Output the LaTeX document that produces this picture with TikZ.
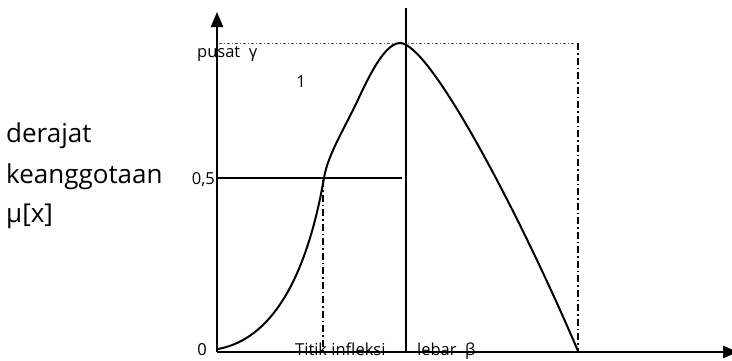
\documentclass[tikz,border=0pt]{standalone}
\usepackage{fontspec}
\setmainfont{Open Sans}
\usetikzlibrary{arrows.meta}
\begin{document}
\begin{tikzpicture}[x=1pt,y=-1pt,
  axis/.style={line width=2.2pt,-{Triangle[length=15pt,width=12pt]}},
  solidline/.style={line width=1.6pt},
  curveline/.style={line width=2pt,line join=round},
  dashdotv/.style={line width=1.6pt,dash pattern=on 7pt off 3pt on 1.5pt off 3pt},
  dotline/.style={line width=0.8pt,gray!70!black,dash pattern=on 3pt off 2pt on 1pt off 2pt},
  small/.style={font=\fontsize{16.5}{19}\selectfont,inner sep=0pt},
  big/.style={font=\fontsize{26}{30}\selectfont,inner sep=0pt,anchor=base west}]
\useasboundingbox (0,0) rectangle (732,360);
\coordinate (O) at (217,352);
\coordinate (Ytop) at (217,12);
\coordinate (Xend) at (738,352);
\coordinate (Vtop) at (406,8);
\coordinate (Vbot) at (406,352);
\coordinate (Dl) at (219,43);
\coordinate (Dr) at (575,43);
\coordinate (Rt) at (578,43);
\coordinate (Rb) at (578,352);
\coordinate (Hl) at (217,178);
\coordinate (Hr) at (402,178);
\coordinate (It) at (323,180);
\coordinate (Ib) at (323,352);
\coordinate (C0) at (218,349);
\coordinate (C1) at (324,178);
\coordinate (C2) at (353,110);
\coordinate (C3) at (400,43);
\coordinate (C4) at (578,351);
% axes
\draw[axis] (O) -- (Ytop);
\draw[axis] (O) -- (Xend);
\draw[solidline] (Vtop) -- (Vbot);
\draw[dotline] (Dl) -- (Dr);
\draw[dashdotv] (Rt) -- (Rb);
\draw[solidline] (Hl) -- (Hr);
\draw[dashdotv] (It) -- (Ib);
% curve
\draw[curveline] (C0) .. controls (278,338) and (309,264) .. (C1)
  .. controls (327,158) and (342,132) .. (C2)
  .. controls (363,90) and (382,43) .. (C3)
  .. controls (430,43) and (520,215) .. (C4);
% labels
\node[small,anchor=base west] (pusat) at (197,57) {pusat\ \ γ};
\node[small,anchor=base] (one) at (301,87) {1};
\node[small,anchor=base east] (half) at (215,184) {0,5};
\node[small,anchor=base east] (zero) at (207,355) {0};
\node[small,anchor=base west] (titik) at (295,355) {Titik infleksi};
\node[small,anchor=base west] (lebar) at (417,355) {lebar\ \ β};
\node[big] (d1) at (6,142) {derajat};
\node[big] (d2) at (6,183) {keanggotaan};
\node[big] (d3) at (6,222) {μ[x]};
\end{tikzpicture}
\end{document}
